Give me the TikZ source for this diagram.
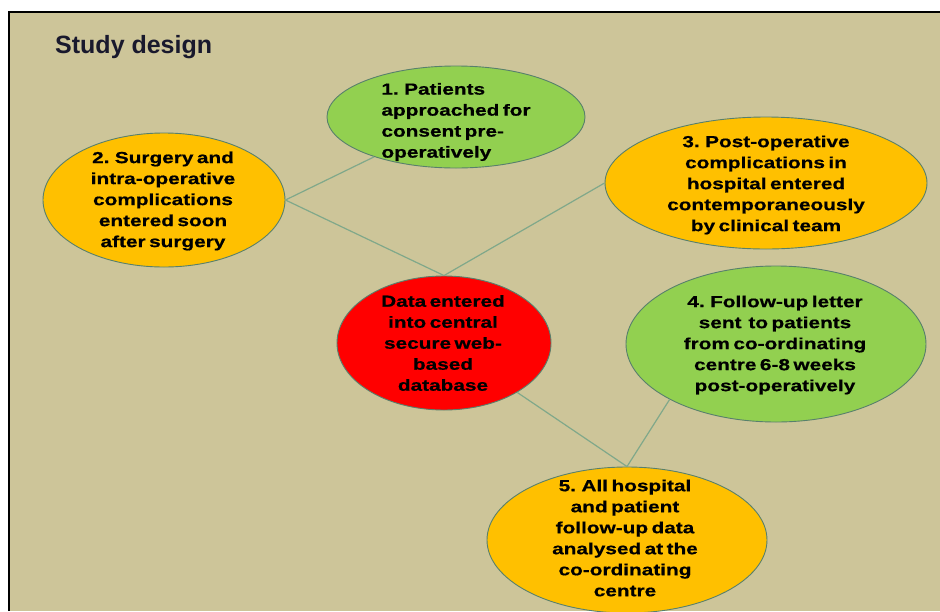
\documentclass[tikz,border=0pt]{standalone}
\usepackage{fontspec}
\setmainfont{Liberation Sans}
\newfontfamily\bubblefont[FakeStretch=1.3,FakeBold=0.6,WordSpace=0.6]{Liberation Sans}
\usetikzlibrary{shapes.geometric}
\definecolor{bgtan}{RGB}{205,197,153}
\definecolor{leafgreen}{RGB}{146,208,80}
\definecolor{amber}{RGB}{255,192,0}
\definecolor{alertred}{RGB}{255,0,0}
\definecolor{rimline}{RGB}{88,128,108}
\definecolor{linkgreen}{RGB}{128,168,138}
\definecolor{titleink}{RGB}{25,25,45}

\begin{document}
\begin{tikzpicture}[x=1pt,y=-1pt,
  bubble/.style={ellipse, draw=rimline, line width=0.9pt, inner sep=0pt},
  btext/.style={align=center, inner sep=0pt, text=black,
    font=\bubblefont\bfseries\fontsize{16}{21}\selectfont},
  link/.style={draw=linkgreen, line width=1.2pt}]
\useasboundingbox (0,0) rectangle (940,611);
% page and framed panel
\fill[white] (0,0) rectangle (940,611);
\fill[bgtan] (9,12) rectangle (940,611);
\draw[line width=2.2pt] (9,611) -- (9,12) -- (940,12);

% title
\node[anchor=base west, inner sep=0pt, text=titleink,
  font=\bfseries\fontsize{25}{30}\selectfont] (title) at (55,53) {Study design};

% bubbles
\node[bubble, fill=leafgreen, minimum width=258pt, minimum height=102pt] (e1) at (456,117) {};
\node[bubble, fill=amber, minimum width=242pt, minimum height=134pt] (e2) at (164,200) {};
\node[bubble, fill=amber, minimum width=322pt, minimum height=132pt] (e3) at (766,183) {};
\node[bubble, fill=leafgreen, minimum width=300pt, minimum height=156pt] (e4) at (776,344) {};
\node[bubble, fill=alertred, minimum width=214pt, minimum height=134pt] (db) at (444,343) {};
\node[bubble, fill=amber, minimum width=280pt, minimum height=146pt] (e5) at (627,540) {};

% connectors
\draw[link] (e2.east) -- (e1);
\draw[link] (e2.east) -- (db.north);
\draw[link] (db.north) -- (e3.west);
\draw[link] (db) -- (e5.north);
\draw[link] (e5.north) -- (e4.south west);

% bubble texts
\node[btext, align=left] (t1) at (456,122) {1. Patients\\approached for\\consent pre-\\operatively};
\node[btext] (t2) at (163,201) {2. Surgery and\\intra-operative\\complications\\entered soon\\after surgery};
\node[btext] (t3) at (766,185) {3. Post-operative\\complications in\\hospital entered\\contemporaneously\\by clinical team};
\node[btext] (t4) at (775,345) {4. Follow-up letter\\sent\ \ to patients\\from co-ordinating\\centre 6-8 weeks\\post-operatively};
\node[btext] (tdb) at (443,343) {Data entered\\into central\\secure web-\\based\\database};
\node[btext] (t5) at (625,538) {5. All hospital\\and patient\\follow-up data\\analysed at the\\co-ordinating\\centre};
\end{tikzpicture}
\end{document}
